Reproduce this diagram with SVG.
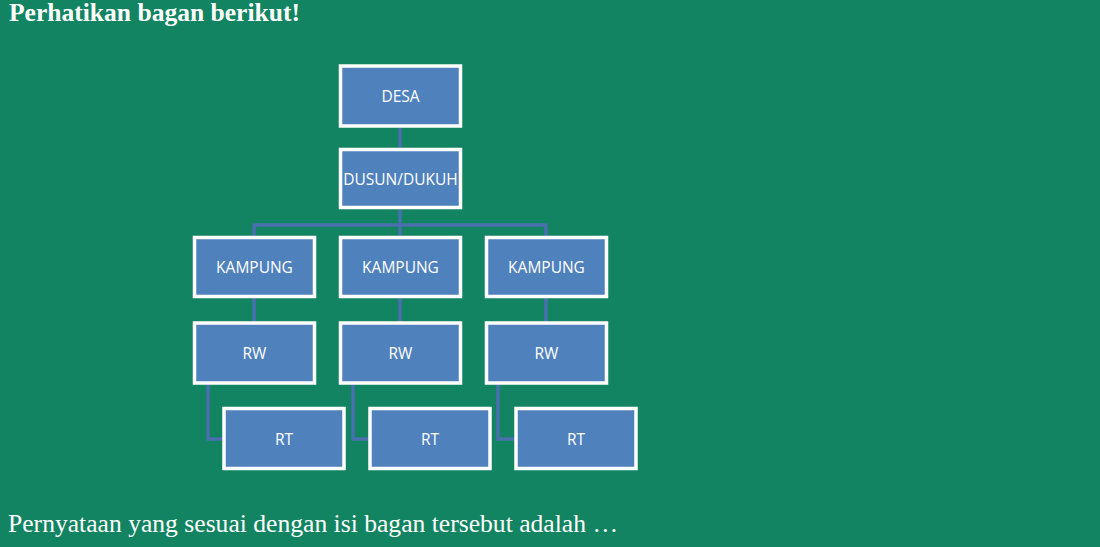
<svg xmlns="http://www.w3.org/2000/svg" width="1100" height="547" viewBox="0 0 1100 547">
<style>
.bg{fill:#128462}
.box rect{fill:#4f81bd;stroke:#ffffff;stroke-width:3.5}
.box text{fill:#ffffff;font-family:"Open Sans","Liberation Sans",sans-serif;font-size:15.5px;text-anchor:middle;dominant-baseline:central}
.conn path{fill:none;stroke:#4a6fae;stroke-width:3.5}
.t{fill:#ffffff;font-family:"Liberation Serif",serif;font-size:25px}
</style>
<rect class="bg" x="0" y="0" width="1100" height="547"/>
<text class="t" x="9" y="21" font-weight="bold" textLength="291" lengthAdjust="spacingAndGlyphs">Perhatikan bagan berikut!</text>
<g id="connectors" class="conn">
<path d="M400 127V149"/>
<path d="M400 208V225M254 237V225H546V237M400 225V237"/>
<path d="M254 297V322M400 297V322M546 297V322"/>
<path d="M208 384V439H224"/>
<path d="M353 384V439H370"/>
<path d="M498 384V439H516"/>
</g>
<g id="desa" class="box"><rect x="340.5" y="66" width="120" height="60"/><text x="400.5" y="96">DESA</text></g>
<g id="dusun" class="box"><rect x="340.5" y="149.5" width="120" height="58"/><text x="400.5" y="179">DUSUN/DUKUH</text></g>
<g id="kampung1" class="box"><rect x="194.5" y="237.5" width="120" height="59"/><text x="254.5" y="267">KAMPUNG</text></g>
<g id="kampung2" class="box"><rect x="340.5" y="237.5" width="120" height="59"/><text x="400.5" y="267">KAMPUNG</text></g>
<g id="kampung3" class="box"><rect x="486.5" y="237.5" width="120" height="59"/><text x="546.5" y="267">KAMPUNG</text></g>
<g id="rw1" class="box"><rect x="194.5" y="323" width="120" height="60"/><text x="254.5" y="353">RW</text></g>
<g id="rw2" class="box"><rect x="340.5" y="323" width="120" height="60"/><text x="400.5" y="353">RW</text></g>
<g id="rw3" class="box"><rect x="486.5" y="323" width="120" height="60"/><text x="546.5" y="353">RW</text></g>
<g id="rt1" class="box"><rect x="224" y="408.5" width="120" height="60"/><text x="284" y="438.5">RT</text></g>
<g id="rt2" class="box"><rect x="370" y="408.5" width="120" height="60"/><text x="430" y="438.5">RT</text></g>
<g id="rt3" class="box"><rect x="516" y="408.5" width="120" height="60"/><text x="576" y="438.5">RT</text></g>
<text class="t" x="8" y="532" textLength="610" lengthAdjust="spacingAndGlyphs">Pernyataan yang sesuai dengan isi bagan tersebut adalah …</text>
</svg>
